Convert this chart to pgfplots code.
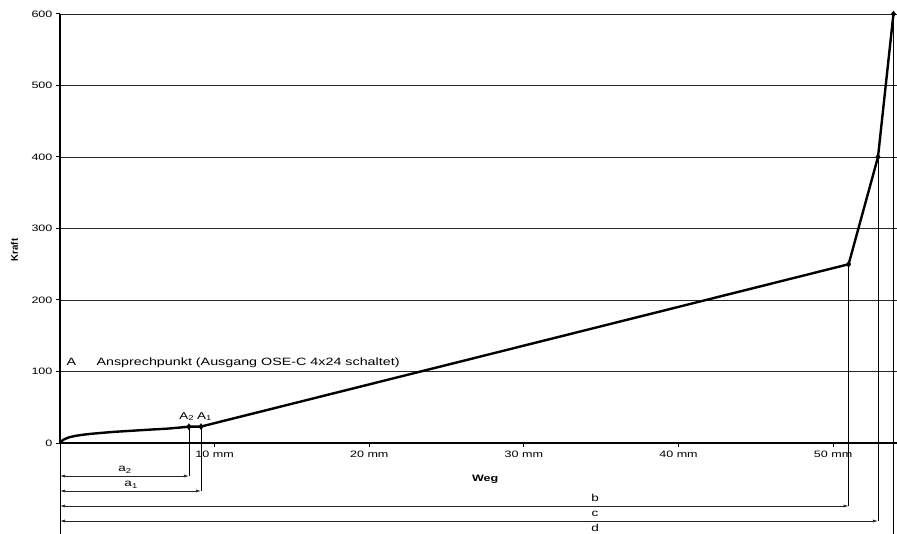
\documentclass[border=0pt]{standalone}
\usepackage{fontspec}
\setmainfont{Liberation Sans}[FakeStretch=1.35]
\newfontfamily\plainfont{Liberation Sans}
\usepackage{pgfplots}
\pgfplotsset{compat=1.18}
\usetikzlibrary{arrows.meta}
\begin{document}
\begin{tikzpicture}
\begin{axis}[
  at={(60pt,90pt)}, anchor=south west,
  scale only axis, width=837pt, height=429pt,
  xmin=0, xmax=54.13, ymin=0, ymax=600,
  axis x line=bottom, axis y line=left,
  x axis line style={-, line width=1.8pt},
  y axis line style={-, line width=2.6pt},
  ytick={0,100,...,600},
  xtick={10,20,30,40,50},
  xticklabels={10 mm,20 mm,30 mm,40 mm,50 mm},
  ymajorgrids, grid style={black!85, line width=0.8pt},
  tick align=outside, major tick length=4pt,
  tick style={black, line width=1pt},
  ticklabel style={font=\fontsize{9.3}{11}\selectfont},
  /pgf/number format/assume math mode=true,
  xlabel={\textbf{Weg}},
  ylabel={{\plainfont\bfseries Kraft}},
  xlabel style={at={(axis description cs:0.508,-0.084)}, anchor=center, font=\fontsize{9.3}{11}\selectfont},
  ylabel style={at={(axis description cs:-0.0545,0.45)}, anchor=center, font=\fontsize{9.6}{11}\selectfont},
  clip=false,
]
% main curve
\addplot[black, line width=2.4pt, line join=round] coordinates {
 (0,0) (0.1,2.8) (0.3,5.5) (0.6,8) (1.0,10) (1.5,11.6) (2.0,12.8) (2.6,14) (3.5,15.6) (4.7,17.2) (5.8,18.7) (6.9,20) (7.7,21.5) (8.34,22.8) (9.12,23)
 (51.0,250) (52.9,400) (53.9,600)};
\addplot[only marks, mark=diamond*, mark size=3pt, black] coordinates {
 (8.34,22.8) (9.12,23) (51.0,250) (52.9,400) (53.9,600)};
% dimension lines
\tikzset{dim/.style={{Latex[length=5pt,width=3pt]}-{Latex[length=5pt,width=3pt]}, line width=0.7pt, black!85}}
\draw[line width=0.8pt] (0,0) -- (0,-130);
\draw[line width=0.8pt] (8.34,23) -- (8.34,-46.2);
\draw[line width=0.8pt] (9.12,23) -- (9.12,-67.1);
\draw[line width=0.8pt] (51.0,250) -- (51.0,-88.1);
\draw[line width=0.8pt] (52.9,400) -- (52.9,-109.1);
\draw[line width=0.8pt] (53.9,600) -- (53.9,-135);
\draw[dim] (0,-46.2) -- (8.34,-46.2);
\draw[dim] (0,-67.1) -- (9.12,-67.1);
\draw[dim] (0,-88.1) -- (51.0,-88.1);
\draw[dim] (0,-109.1) -- (52.9,-109.1);
\draw[dim] (0,-130.1) -- (53.9,-130.1);
\tikzset{lab/.style={font=\fontsize{10}{12}\selectfont, inner sep=0pt, anchor=base}}
\node[lab] at (4.2,-40) {a\textsubscript{2}};
\node[lab] at (4.6,-61) {a\textsubscript{1}};
\node[lab] at (34.6,-81.5) {b};
\node[lab] at (34.6,-102.5) {c};
\node[lab] at (34.6,-123.5) {d};
\node[lab] at (8.2,33) {A\textsubscript{2}};
\node[lab] at (9.35,33) {A\textsubscript{1}};
\node[lab, anchor=base west, font=\fontsize{10.6}{12}\selectfont] at (0.42,108) {A};
\node[lab, anchor=base west, font=\fontsize{10.6}{12}\selectfont] at (2.35,108) {Ansprechpunkt (Ausgang OSE-C 4x24 schaltet)};
\end{axis}
\pgfresetboundingbox
\path[use as bounding box] (0,0) rectangle (897pt,533pt);
\end{tikzpicture}
\end{document}
